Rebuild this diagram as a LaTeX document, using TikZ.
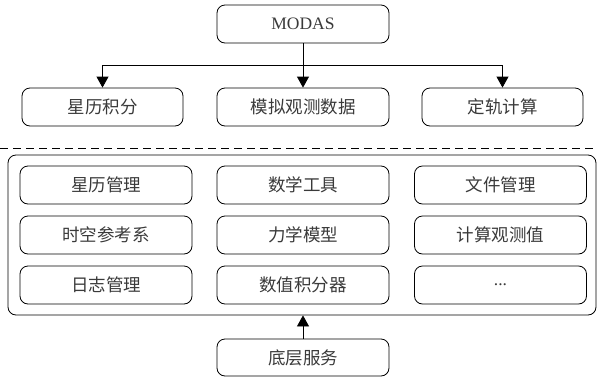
\documentclass[tikz,border=0pt]{standalone}
\usepackage{fontspec}
\setmainfont{Liberation Serif}
\newfontfamily\cjk{Noto Sans CJK SC}
\usetikzlibrary{arrows.meta}
\definecolor{txt}{HTML}{3A3A3A}
\begin{document}
\begin{tikzpicture}[x=1pt,y=-1pt,
  box/.style={draw=black,line width=0.8pt,rounded corners=8pt,minimum height=38pt,inner sep=0pt,text=txt,font=\cjk\fontsize{17.5}{20}\selectfont},
  wbox/.style={box,minimum width=172pt},
  nbox/.style={box,minimum width=161pt},
  arr/.style={line width=0.8pt,-{Triangle[length=11pt,width=12pt]}},
  ln/.style={line width=0.8pt}]
\useasboundingbox (0,0) rectangle (598,381);
\node[wbox,font=\fontsize{17.5}{20}\selectfont] (modas) at (303,24) {MODAS};
\node[nbox] (A) at (102.5,107) {星历积分};
\node[wbox] (B) at (303,107) {模拟观测数据};
\node[nbox] (C) at (502.5,107) {定轨计算};
\coordinate (hj) at (303,65);
\draw[arr] (modas.south) -- (B.north);
\draw[arr] (hj) -| (A.north);
\draw[arr] (hj) -| (C.north);
\coordinate (dl) at (0,148);
\coordinate (dr) at (598,148);
\draw[ln,dash pattern=on 8pt off 5pt] (dl) -- (dr);
\node[draw=black,line width=0.8pt,rounded corners=8pt,minimum width=588pt,minimum height=160pt,inner sep=0pt] (outer) at (302,235) {};
\node[wbox] (a1) at (106,185) {星历管理};
\node[wbox] (a2) at (303,185) {数学工具};
\node[wbox] (a3) at (500.5,185) {文件管理};
\node[wbox] (b1) at (106,235) {时空参考系};
\node[wbox] (b2) at (303,235) {力学模型};
\node[wbox] (b3) at (500.5,235) {计算观测值};
\node[wbox] (c1) at (106,285) {日志管理};
\node[wbox] (c2) at (303,285) {数值积分器};
\node[wbox,font=\fontsize{17.5}{20}\selectfont] (c3) at (500.5,285) {...};
\node[wbox,minimum height=37pt] (bot) at (303,357.5) {底层服务};
\draw[arr] (bot.north) -- (bot.north |- outer.south);
\end{tikzpicture}
\end{document}
